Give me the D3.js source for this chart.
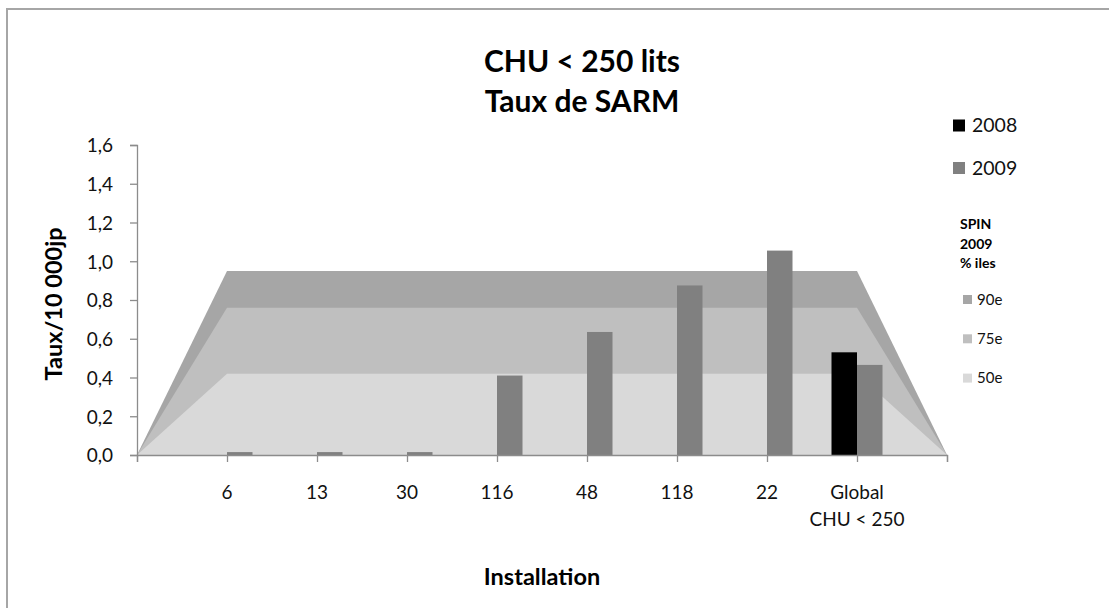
<!DOCTYPE html>
<html lang="fr">
<head>
  <meta charset="UTF-8" />
  <title>CHU &lt; 250 lits - Taux de SARM</title>
  <style>
    body { margin: 0; background: #fff; font-family: Lato, "Liberation Sans", sans-serif; }
  </style>
</head>
<body>
  <div id="chart"></div>
  <script src="https://d3js.org/d3.v7.min.js"></script>
  <script>
    // categories (first and last are empty slots used by the SPIN area)
    const categories = ["", "6", "13", "30", "116", "48", "118", "22", "Global|CHU < 250", ""];
    const years = ["2008", "2009"];
    const values2008 = [null, null, null, null, null, null, null, null, 0.53, null];
    const values2009 = [null, 0.015, 0.015, 0.015, 0.41, 0.635, 0.875, 1.055, 0.465, null];
    const spin90 = [0, 0.95, 0.95, 0.95, 0.95, 0.95, 0.95, 0.95, 0.95, 0];
    const spin75 = [0, 0.76, 0.76, 0.76, 0.76, 0.76, 0.76, 0.76, 0.76, 0];
    const spin50 = [0, 0.42, 0.42, 0.42, 0.42, 0.42, 0.42, 0.42, 0.42, 0];
    const yTicks = [0, 0.2, 0.4, 0.6, 0.8, 1.0, 1.2, 1.4, 1.6];

    const W = 1109, H = 608;
    const svg = d3.select("#chart").append("svg")
      .attr("width", W).attr("height", H);

    // outer frame
    svg.append("rect")
      .attr("x", 7).attr("y", 9).attr("width", 1200).attr("height", 700)
      .attr("fill", "#fff").attr("stroke", "#a6a6a6").attr("stroke-width", 2);

    const x = d3.scalePoint().domain(d3.range(categories.length)).range([137, 947]);
    const y = d3.scaleLinear().domain([0, 1.6]).range([455, 145]);
    const sub = d3.scaleBand().domain(years).range([-25.5, 25.5]).padding(0);

    // SPIN percentile areas (drawn back to front)
    const areas = [
      { key: "90e", values: spin90, color: "#a6a6a6" },
      { key: "75e", values: spin75, color: "#bfbfbf" },
      { key: "50e", values: spin50, color: "#d9d9d9" }
    ];
    const area = d3.area()
      .x((d, i) => x(i))
      .y0(y(0))
      .y1(d => y(d));
    svg.selectAll("path.spin")
      .data(areas)
      .enter()
      .append("path")
      .attr("class", "spin")
      .attr("d", d => area(d.values))
      .attr("fill", d => d.color);

    // bars
    const series = [
      { year: "2008", values: values2008, color: "#000000" },
      { year: "2009", values: values2009, color: "#808080" }
    ];
    series.forEach(s => {
      svg.append("g").selectAll("rect")
        .data(s.values.map((v, i) => ({ v, i })).filter(d => d.v !== null))
        .enter()
        .append("rect")
        .attr("x", d => x(d.i) + sub(s.year))
        .attr("y", d => y(d.v))
        .attr("width", sub.bandwidth())
        .attr("height", d => y(0) - y(d.v))
        .attr("fill", s.color);
    });

    // y axis
    const yAxis = svg.append("g")
      .attr("transform", "translate(137,0)")
      .call(d3.axisLeft(y).tickValues(yTicks).tickSize(7).tickPadding(24)
        .tickFormat(d => d3.format(".1f")(d).replace(".", ",")));
    yAxis.select(".domain").attr("stroke", "#8c8c8c").attr("stroke-width", 1.3);
    yAxis.selectAll(".tick line").attr("stroke", "#8c8c8c").attr("stroke-width", 1.3);
    yAxis.selectAll(".tick text")
      .attr("fill", "#111").attr("font-size", "19px").attr("font-family", "Lato, sans-serif")
      .attr("x", -24).attr("dy", "0.36em");

    // x axis
    const xAxis = svg.append("g")
      .attr("transform", "translate(0,455)")
      .call(d3.axisBottom(x).tickSize(7).tickFormat(""));
    xAxis.select(".domain").attr("stroke", "#8c8c8c").attr("stroke-width", 1.3);
    xAxis.selectAll(".tick line").attr("stroke", "#8c8c8c").attr("stroke-width", 1.3);

    svg.append("g").selectAll("text")
      .data(categories.map((c, i) => ({ c, i })).filter(d => d.c !== ""))
      .enter()
      .append("text")
      .attr("x", d => x(d.i))
      .attr("y", 499)
      .attr("text-anchor", "middle")
      .attr("font-size", "19px")
      .attr("fill", "#111")
      .each(function (d) {
        const parts = d.c.split("|");
        d3.select(this).selectAll("tspan")
          .data(parts)
          .enter()
          .append("tspan")
          .attr("x", x(d.i))
          .attr("dy", (p, j) => j === 0 ? 0 : 27)
          .text(p => p);
      });

    // titles
    svg.append("text")
      .attr("x", 582).attr("y", 72)
      .attr("text-anchor", "middle")
      .attr("font-size", "30px").attr("font-weight", "bold")
      .text("CHU < 250 lits");
    svg.append("text")
      .attr("x", 582).attr("y", 112)
      .attr("text-anchor", "middle")
      .attr("font-size", "30px").attr("font-weight", "bold")
      .text("Taux de SARM");

    svg.append("text")
      .attr("transform", "translate(62,304) rotate(-90)")
      .attr("text-anchor", "middle")
      .attr("font-size", "23.5px").attr("font-weight", "bold")
      .text("Taux/10 000jp");

    svg.append("text")
      .attr("x", 542).attr("y", 585)
      .attr("text-anchor", "middle")
      .attr("font-size", "23.5px").attr("font-weight", "bold")
      .text("Installation");

    // legend: years
    const legendYears = svg.append("g");
    legendYears.selectAll("rect")
      .data(series)
      .enter()
      .append("rect")
      .attr("x", 953)
      .attr("y", (d, i) => 119.5 + i * 42.5)
      .attr("width", 12).attr("height", 12)
      .attr("fill", d => d.color);
    legendYears.selectAll("text")
      .data(series)
      .enter()
      .append("text")
      .attr("x", 972)
      .attr("y", (d, i) => 132 + i * 42.5)
      .attr("font-size", "19.5px")
      .attr("fill", "#111")
      .text(d => d.year);

    // legend: SPIN percentiles
    svg.append("text")
      .attr("x", 960).attr("y", 229)
      .attr("font-size", "14px").attr("font-weight", "bold")
      .selectAll("tspan")
      .data(["SPIN", "2009", "% iles"])
      .enter()
      .append("tspan")
      .attr("x", 960)
      .attr("dy", (d, i) => i === 0 ? 0 : 19.5)
      .text(d => d);

    const legendSpin = svg.append("g");
    legendSpin.selectAll("rect")
      .data(areas)
      .enter()
      .append("rect")
      .attr("x", 963)
      .attr("y", (d, i) => 295 + i * 39.3)
      .attr("width", 9).attr("height", 9)
      .attr("fill", d => d.color);
    legendSpin.selectAll("text")
      .data(areas)
      .enter()
      .append("text")
      .attr("x", 977)
      .attr("y", (d, i) => 304.5 + i * 39.3)
      .attr("font-size", "15px")
      .attr("fill", "#111")
      .text(d => d.key);
  </script>
</body>
</html>
